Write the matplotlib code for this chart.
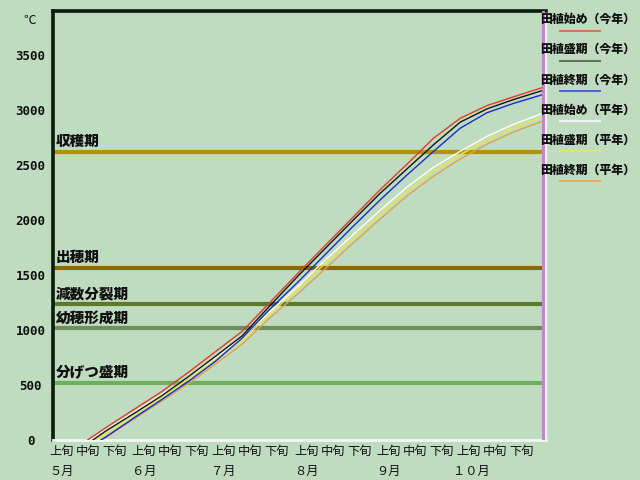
import matplotlib
matplotlib.use("Agg")
import matplotlib.pyplot as plt
import matplotlib.transforms as mtransforms
from matplotlib.lines import Line2D

plt.rcParams['font.family'] = ['Noto Sans CJK JP', 'DejaVu Sans']

# ---------------- data ----------------
# x axis: days after May 1 (0 = May 1, 184 = Nov 1)
dekad_days = [0, 10, 20, 31, 41, 51, 61, 71, 81, 92, 102, 112, 123, 133, 143, 153, 163, 173]
dekad_labels = ['上旬', '中旬', '下旬'] * 6
month_days = [0, 31, 61, 92, 123, 153]
month_labels = ['５月', '６月', '７月', '８月', '９月', '１０月']

common_days = [20, 31, 41, 51, 61, 71, 81, 92, 102, 112, 123, 133, 143, 153, 163, 173, 184]

start_early_this = 13
start_peak_this = 15
start_late_this = 18
start_early_norm = 14
start_peak_norm = 16
start_late_norm = 18

early_this = [0, 115, 287, 443, 618, 803, 987, 1238, 1516, 1762, 2008, 2278, 2508, 2745, 2925, 3040, 3120, 3205]
peak_this = [0, 85, 250, 405, 578, 760, 945, 1208, 1490, 1735, 1980, 2245, 2465, 2685, 2890, 3010, 3095, 3178]
late_this = [0, 30, 210, 370, 535, 715, 925, 1178, 1435, 1680, 1925, 2185, 2410, 2625, 2835, 2975, 3060, 3140]
early_norm = [0, 95, 260, 415, 575, 750, 930, 1155, 1397, 1630, 1850, 2090, 2300, 2480, 2625, 2760, 2870, 2970]
peak_norm = [0, 60, 235, 395, 555, 730, 905, 1135, 1375, 1600, 1815, 2055, 2265, 2445, 2595, 2725, 2840, 2940]
late_norm = [0, 25, 200, 355, 515, 690, 870, 1100, 1330, 1550, 1775, 2010, 2220, 2400, 2555, 2690, 2800, 2900]

series_names = ['田植始め（今年）', '田植盛期（今年）', '田植終期（今年）',
                '田植始め（平年）', '田植盛期（平年）', '田植終期（平年）']
series_starts = [start_early_this, start_peak_this, start_late_this,
                 start_early_norm, start_peak_norm, start_late_norm]
series_values = [early_this, peak_this, late_this, early_norm, peak_norm, late_norm]
series_colors = ['#e03a30', '#101810', '#1a2ad0', '#ffffff', '#e8e840', '#e0a050']
legend_colors = ['#e07060', '#607060', '#5060d8', '#f4f4f4', '#e4e460', '#e4b060']

stage_names = ['収穫期', '出穂期', '減数分裂期', '幼穂形成期', '分げつ盛期']
stage_values = [2620, 1564, 1236, 1018, 518]
stage_colors = ['#b39300', '#8a6a00', '#5c7a2c', '#6e8e5e', '#6cb05c']

y_ticks = [0, 500, 1000, 1500, 2000, 2500, 3000, 3500]

# ---------------- figure ----------------
BG = '#c0dcc0'
W, H = 640, 480
fig = plt.figure(figsize=(6.4, 4.8), dpi=100, facecolor=BG)
ax = fig.add_axes([53 / W, 40 / H, 493 / W, 429 / H])
ax.set_facecolor(BG)
ax.set_xlim(0, 185.2)
ax.set_ylim(0, 3900)

def fy(py):
    return 1 - py / H

# stage lines and labels
ytrans = mtransforms.blended_transform_factory(ax.transAxes, ax.transData)
for name, val, col in zip(stage_names, stage_values, stage_colors):
    ax.axhline(val, color=col, lw=3.0, zorder=2)
    ax.text(3 / 493, val, name, transform=ytrans + mtransforms.ScaledTranslation(0, 10 / 100, fig.dpi_scale_trans),
            ha='left', va='center', fontsize=10.5, fontweight='heavy', color='#101010', zorder=3)

# series (normal years first, then this year on top)
order = [5, 4, 3, 2, 1, 0]
for i in order:
    xs = [series_starts[i]] + common_days
    ax.plot(xs, series_values[i], color=series_colors[i], lw=1.0, zorder=4)

# right boundary marker
ax.axvline(184, color='#c088c8', lw=2.2, zorder=5)

# spines
for s in ['left', 'top']:
    ax.spines[s].set_color('#0c1c0c')
    ax.spines[s].set_linewidth(2.6)
ax.spines['bottom'].set_color('#f4f8f4')
ax.spines['bottom'].set_linewidth(2)
ax.spines['right'].set_color('#f4f8f4')
ax.spines['right'].set_linewidth(1.5)

# y ticks
ax.set_yticks(y_ticks)
ax.set_yticklabels([str(v) for v in y_ticks], fontfamily='DejaVu Sans Mono',
                   fontweight='bold', fontsize=9, color='#101010')
ax.tick_params(axis='y', length=0, pad=16.2)
for lbl in ax.get_yticklabels():
    lbl.set_horizontalalignment('center')

# x labels (manual, left aligned at dekad starts)
ax.set_xticks([])
xtrans = mtransforms.blended_transform_factory(ax.transData, fig.transFigure)
shift = mtransforms.ScaledTranslation(-4 / 100, 0, fig.dpi_scale_trans)
for d, lab in zip(dekad_days, dekad_labels):
    ax.text(d, fy(451), lab, transform=xtrans + shift, ha='left', va='center',
            fontsize=8.8, color='#101010', clip_on=False)
for d, lab in zip(month_days, month_labels):
    off = -4.0 if len(lab) == 2 else -7.0
    ax.text(d, fy(471), lab, transform=xtrans + mtransforms.ScaledTranslation(off / 100, 0, fig.dpi_scale_trans),
            ha='left', va='center', fontsize=8.8, color='#101010', clip_on=False)

# unit
fig.text(30 / W, fy(20), '℃', ha='center', va='center', fontsize=9, color='#101010')

# legend
text_rows = [19, 49, 79.5, 109.5, 139.5, 169.5]
line_rows = [31, 61, 91, 121, 151, 181]
for name, col, ty, ly in zip(series_names, legend_colors, text_rows, line_rows):
    fig.text(540 / W, fy(ty), name, ha='left', va='center', fontsize=8.6,
             fontweight='heavy', color='#101010')
    fig.add_artist(Line2D([560 / W, 600 / W], [fy(ly), fy(ly)], color=col, lw=1.5))

fig.savefig('out.png', dpi=100, facecolor=BG)
